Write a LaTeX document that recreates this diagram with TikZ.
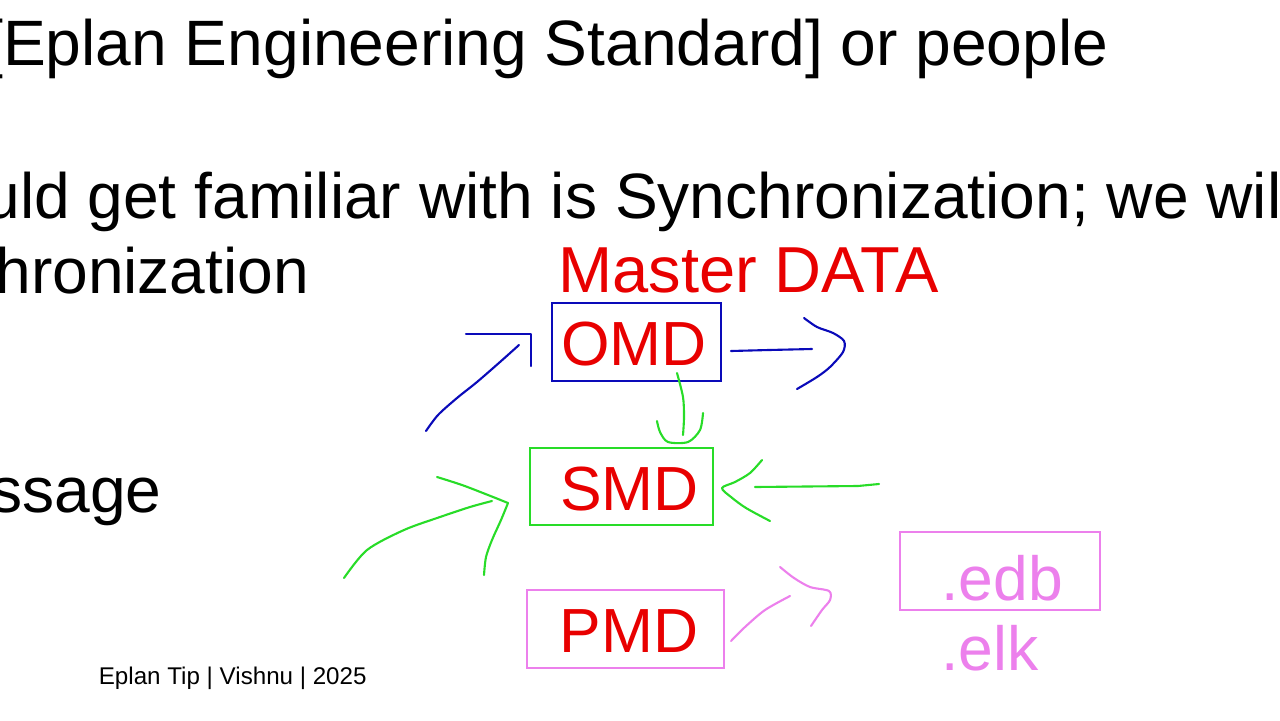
\documentclass[tikz,border=0pt]{standalone}
\usepackage{fontspec}
\setmainfont{Liberation Sans}
\usetikzlibrary{positioning}
\definecolor{mdred}{RGB}{232,0,0}
\definecolor{inkblue}{RGB}{10,10,185}
\definecolor{inkgreen}{RGB}{40,220,40}
\definecolor{inkpink}{RGB}{236,128,236}
\tikzset{
  slidetxt/.style={font=\fontsize{36.5}{40}\selectfont, inner sep=0pt, anchor=base west},
  mdtxt/.style={font=\fontsize{35.5}{40}\selectfont, text=mdred, inner sep=0pt, anchor=base},
  mdbox/.style={rectangle, line width=1.1pt, minimum width={#1*0.5669pt}, inner sep=0pt,
    minimum height=44.2pt},
  ink/.style={line width=1.2pt, line cap=round, line join=round},
}
\begin{document}
\begin{tikzpicture}[x=0.02cm, y=-0.02cm]
  \useasboundingbox (0,0) rectangle (1280,720);
  \begin{scope}
    \clip (0,0) rectangle (1280,720);
    % slide text, cut at the left edge
    \node[slidetxt] (l1) at (-15,65) {[Eplan Engineering Standard] or people};
    \node[slidetxt] (l2) at (-16,218) {uld get familiar with is Synchronization; we will};
    \node[slidetxt] (l3) at (-5,293) {hronization};
    \node[slidetxt] (l4) at (-10,512) {ssage};
  \end{scope}
  \node[font=\fontsize{13.75}{16}\selectfont, inner sep=0pt, anchor=base west] (foot) at (98.5,684)
    {Eplan Tip | Vishnu | 2025};

  % master data boxes
  \node[mdtxt, font=\fontsize{37}{40}\selectfont] (master) at (748.5,292) {Master DATA};
  \node[mdbox=169, draw=inkblue] (omd) at (636.5,342) {};
  \node[mdtxt] (omdtxt) at (634,365) {OMD};
  \node[mdbox=183, draw=inkgreen] (smd) at (621.5,486.5) {};
  \node[mdtxt] (smdtxt) at (629.5,510) {SMD};
  \node[mdbox=197, draw=inkpink] (pmd) at (625.5,629) {};
  \node[mdtxt] (pmdtxt) at (629,652) {PMD};
  \node[mdbox=200, draw=inkpink] (edb) at (1000,571) {};
  \node[mdtxt, text=inkpink] (edbtxt) at (1002,600) {.edb};
  \node[mdtxt, text=inkpink] (elktxt) at (990,670) {.elk};

  % blue ink
  \draw[ink, inkblue] plot[smooth] coordinates {(426,431) (438,415) (457,398) (477,382) (500,362) (519,345)};
  \draw[ink, inkblue] (466,334) -- (531,334) -- (531,366);
  \draw[ink, inkblue] (731,351) -- (769,350) -- (812,349);
  \draw[ink, inkblue] plot[smooth] coordinates {(804,318) (817,327) (833,333) (844,341) (843,352) (830,367) (817,377) (797,389)};

  % green ink
  \draw[ink, inkgreen] plot[smooth] coordinates {(677,373) (683,397) (684,417) (683,435)};
  \draw[ink, inkgreen] plot[smooth] coordinates {(657,421) (660,432) (668,442) (688,442) (700,430) (703,413)};
  \draw[ink, inkgreen] plot[smooth] coordinates {(344,578) (367,550) (404,530) (440,517) (470,507) (492,501)};
  \draw[ink, inkgreen] plot[smooth] coordinates {(437,477) (462,485) (488,495) (508,503)};
  \draw[ink, inkgreen] plot[smooth] coordinates {(508,503) (501,520) (492,540) (486,557) (484,575)};
  \draw[ink, inkgreen] (755,487) -- (858,486) -- (879,484);
  \draw[ink, inkgreen] plot[smooth] coordinates {(762,460) (750,473) (735,482) (722,488) (731,497) (746,508) (770,521)};

  % pink ink
  \draw[ink, inkpink] plot[smooth] coordinates {(731,641) (745,627) (765,610) (790,596)};
  \draw[ink, inkpink] plot[smooth] coordinates {(780,567) (794,578) (810,587) (829,591) (830,600) (822,610) (811,626)};
\end{tikzpicture}
\end{document}
